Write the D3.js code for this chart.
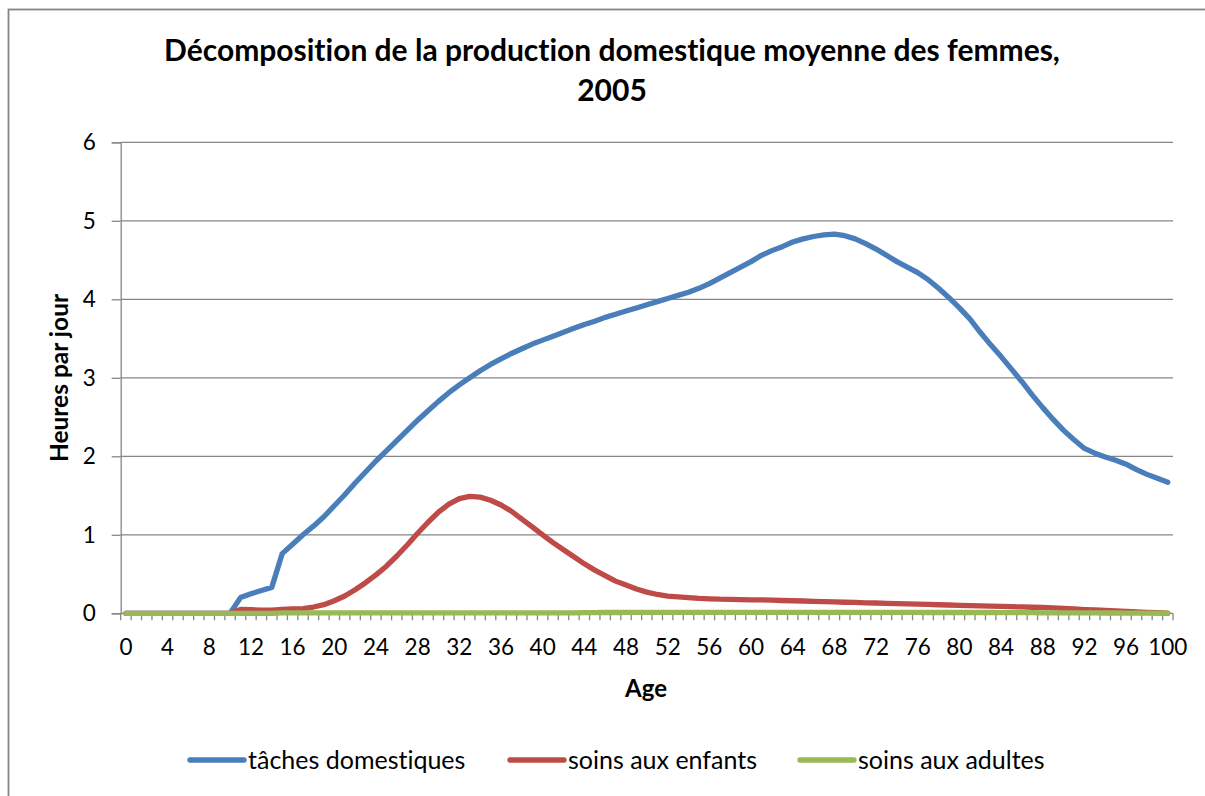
<!DOCTYPE html>
<html>
<head>
<meta charset="utf-8">
<script src="https://cdn.jsdelivr.net/npm/d3@7/dist/d3.min.js"></script>
<style>
  html, body { margin: 0; padding: 0; background: #fff; }
  svg { display: block; font-family: Lato, "Open Sans", sans-serif; font-variant-ligatures: none; }
</style>
</head>
<body>
<svg id="chart" width="1205" height="796"></svg>
<script>
// Ages 0 to 100 (one category per year)
const ages = d3.range(0, 101);

// Hours per day, by age
const tachesDomestiques = [
  0, 0, 0, 0, 0, 0, 0, 0, 0, 0,
  0, 0.20, 0.25, 0.29, 0.33, 0.76, 0.88, 1.00, 1.11, 1.23,
  1.37, 1.51, 1.66, 1.80, 1.94, 2.07, 2.20, 2.33, 2.46, 2.58,
  2.70, 2.81, 2.91, 3.00, 3.09, 3.17, 3.24, 3.31, 3.37, 3.43,
  3.48, 3.53, 3.58, 3.63, 3.68, 3.72, 3.77, 3.81, 3.85, 3.89,
  3.93, 3.97, 4.01, 4.05, 4.09, 4.14, 4.20, 4.27, 4.34, 4.41,
  4.48, 4.56, 4.62, 4.67, 4.73, 4.77, 4.80, 4.82, 4.83, 4.81,
  4.77, 4.71, 4.64, 4.56, 4.48, 4.41, 4.34, 4.25, 4.14, 4.02,
  3.89, 3.75, 3.58, 3.42, 3.27, 3.11, 2.95, 2.78, 2.62, 2.47,
  2.33, 2.21, 2.10, 2.04, 1.99, 1.95, 1.90, 1.83, 1.77, 1.72,
  1.67
];

const soinsEnfants = [
  0, 0, 0, 0, 0, 0, 0, 0, 0, 0,
  0, 0.05, 0.045, 0.04, 0.04, 0.05, 0.055, 0.06, 0.08, 0.11,
  0.16, 0.22, 0.30, 0.39, 0.49, 0.60, 0.73, 0.87, 1.02, 1.16,
  1.29, 1.39, 1.46, 1.49, 1.48, 1.44, 1.38, 1.30, 1.20, 1.10,
  1.00, 0.90, 0.81, 0.72, 0.63, 0.55, 0.48, 0.41, 0.36, 0.31,
  0.27, 0.24, 0.22, 0.21, 0.20, 0.19, 0.185, 0.18, 0.178, 0.175,
  0.172, 0.17, 0.167, 0.163, 0.16, 0.157, 0.153, 0.149, 0.145, 0.141,
  0.138, 0.134, 0.131, 0.127, 0.124, 0.120, 0.116, 0.113, 0.109, 0.106,
  0.102, 0.098, 0.095, 0.091, 0.088, 0.084, 0.081, 0.077, 0.074, 0.069,
  0.062, 0.055, 0.048, 0.042, 0.036, 0.030, 0.024, 0.018, 0.012, 0.007,
  0.003
];

const soinsAdultes = [
  0, 0, 0, 0, 0, 0, 0, 0, 0, 0,
  0, 0, 0, 0, 0, 0.005, 0.005, 0.005, 0.005, 0.005,
  0.005, 0.005, 0.005, 0.005, 0.005, 0.005, 0.005, 0.005, 0.005, 0.005,
  0.005, 0.005, 0.005, 0.005, 0.005, 0.005, 0.005, 0.005, 0.005, 0.005,
  0.005, 0.005, 0.005, 0.005, 0.008, 0.008, 0.01, 0.01, 0.012, 0.012,
  0.012, 0.012, 0.012, 0.012, 0.012, 0.012, 0.012, 0.012, 0.012, 0.012,
  0.012, 0.012, 0.012, 0.012, 0.012, 0.012, 0.012, 0.012, 0.012, 0.012,
  0.012, 0.012, 0.012, 0.012, 0.012, 0.012, 0.012, 0.01, 0.01, 0.01,
  0.01, 0.01, 0.01, 0.01, 0.008, 0.008, 0.008, 0.008, 0.006, 0.006,
  0.006, 0.005, 0.005, 0.005, 0.004, 0.004, 0.003, 0.003, 0.002, 0.002,
  0.002
];

const seriesNames = ["tâches domestiques", "soins aux enfants", "soins aux adultes"];
const seriesColors = ["#4a7ebb", "#be4b48", "#98b954"];
const yTicks = [0, 1, 2, 3, 4, 5, 6];
const xLabelAges = d3.range(0, 101, 4);

const titleLines = ["Décomposition de la production domestique moyenne des femmes,", "2005"];
const yTitle = "Heures par jour";
const xTitle = "Age";

const series = [tachesDomestiques, soinsEnfants, soinsAdultes].map((vals, i) => ({
  name: seriesNames[i],
  color: seriesColors[i],
  values: vals
}));

const svg = d3.select("#chart");
const gray = "#868686";

// Outer chart frame
svg.append("rect")
  .attr("x", 8.5).attr("y", 9.5)
  .attr("width", 1400).attr("height", 1000)
  .attr("fill", "#fff").attr("stroke", gray).attr("stroke-width", 1.8);

const plot = { left: 120.7, right: 1173, top: 142.3, bottom: 613.3 };

const x = d3.scaleBand().domain(ages).range([plot.left, plot.right]).padding(0);
const xc = a => x(a) + x.bandwidth() / 2;
const y = d3.scaleLinear().domain([0, 6]).range([plot.bottom, plot.top]);

// Horizontal gridlines
svg.append("g")
  .selectAll("line")
  .data(yTicks.filter(t => t > 0))
  .join("line")
  .attr("x1", plot.left).attr("x2", plot.right)
  .attr("y1", d => y(d)).attr("y2", d => y(d))
  .attr("stroke", gray).attr("stroke-width", 1.3);

// Y axis
const yAxis = svg.append("g")
  .attr("transform", `translate(${plot.left},0)`)
  .call(d3.axisLeft(y).tickValues(yTicks).tickSize(9).tickPadding(16).tickFormat(d3.format("d")));
yAxis.select(".domain").attr("stroke", gray).attr("stroke-width", 1.3);
yAxis.selectAll(".tick line").attr("stroke", gray).attr("stroke-width", 1.3);
yAxis.selectAll(".tick text")
  .attr("font-size", 22.5).attr("fill", "#000")
  .attr("font-family", "Lato, sans-serif");

// X axis: line, category boundary ticks, labels every 4 years
const xAxis = svg.append("g");
xAxis.append("line")
  .attr("x1", plot.left).attr("x2", plot.right)
  .attr("y1", plot.bottom).attr("y2", plot.bottom)
  .attr("stroke", gray).attr("stroke-width", 1.3);
xAxis.selectAll("line.tick")
  .data(ages.concat([ages.length]))
  .join("line")
  .attr("class", "tick")
  .attr("x1", d => d < ages.length ? x(d) : plot.right)
  .attr("x2", d => d < ages.length ? x(d) : plot.right)
  .attr("y1", plot.bottom).attr("y2", plot.bottom + 7)
  .attr("stroke", gray).attr("stroke-width", 1.3);
xAxis.selectAll("text")
  .data(xLabelAges)
  .join("text")
  .attr("x", d => xc(d))
  .attr("y", 655)
  .attr("text-anchor", "middle")
  .attr("font-size", 22.5)
  .attr("fill", "#000")
  .text(d => d);

// Series lines
const line = d3.line()
  .x((d, i) => xc(ages[i]))
  .y(d => y(d));

svg.append("g")
  .selectAll("path")
  .data(series)
  .join("path")
  .attr("d", d => line(d.values))
  .attr("fill", "none")
  .attr("stroke", d => d.color)
  .attr("stroke-width", 5.3)
  .attr("stroke-linejoin", "round")
  .attr("stroke-linecap", "round");

// Title
svg.append("text")
  .attr("text-anchor", "middle")
  .attr("font-weight", "bold")
  .attr("font-size", 30)
  .attr("fill", "#000")
  .selectAll("tspan")
  .data(titleLines)
  .join("tspan")
  .attr("x", 612)
  .attr("y", (d, i) => 61 + i * 40)
  .text(d => d);

// Axis titles
svg.append("text")
  .attr("transform", "translate(68,378) rotate(-90)")
  .attr("text-anchor", "middle")
  .attr("font-weight", "bold")
  .attr("font-size", 24.5)
  .attr("fill", "#000")
  .text(yTitle);

svg.append("text")
  .attr("x", 646).attr("y", 697)
  .attr("text-anchor", "middle")
  .attr("font-weight", "bold")
  .attr("font-size", 24)
  .attr("fill", "#000")
  .text(xTitle);

// Legend
const legendX = [190, 510, 800];
const legend = svg.append("g")
  .selectAll("g")
  .data(series)
  .join("g")
  .attr("transform", (d, i) => `translate(${legendX[i]},760)`);
legend.append("line")
  .attr("x1", 0).attr("x2", 54)
  .attr("stroke", d => d.color)
  .attr("stroke-width", 5.3)
  .attr("stroke-linecap", "round");
legend.append("text")
  .attr("x", 58).attr("y", 8.5)
  .attr("font-size", 25)
  .attr("fill", "#000")
  .text(d => d.name);
</script>
</body>
</html>
